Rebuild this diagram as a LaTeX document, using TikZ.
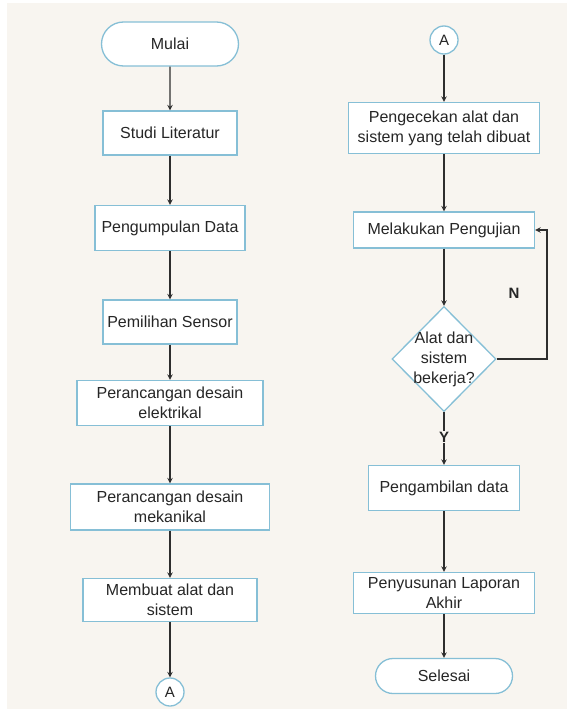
\documentclass[tikz,border=0pt]{standalone}
\usepackage{fontspec}
\setmainfont{Liberation Sans}
\usetikzlibrary{shapes,calc}

\definecolor{paper}{HTML}{F8F5F0}
\definecolor{boxblue}{HTML}{86BFD6}
\definecolor{linegray}{HTML}{2E2E2E}

\begin{document}
\begin{tikzpicture}[x=1pt,y=-1pt]
    \newcommand{\boxheight}[0]{44pt}

    \tikzstyle{dedge} = [line width=1.4pt,->,>=stealth,draw=linegray]

    \tikzstyle{process}=[
      rectangle,
      draw=boxblue,
      fill=white,
      line width=1.3pt,
      minimum height=\boxheight,
      align=center,
      inner sep=0pt,
      font=\fontsize{16}{20}\selectfont,
      text=black!85,
    ]
    \tikzstyle{terminal}=[
      process,
      rounded rectangle,
    ]
    \tikzstyle{decision}=[
      diamond,
      draw=boxblue,
      fill=white,
      line width=1.3pt,
      inner sep=0pt,
    ]
    \tikzstyle{connector}=[
      circle,
      draw=boxblue,
      fill=white,
      line width=1.3pt,
      minimum size=28pt,
      inner sep=0pt,
      font=\fontsize{15}{18}\selectfont,
      text=black!85,
    ]
    \tikzstyle{answer}=[
      font=\fontsize{15}{18}\selectfont\bfseries,
      text=black!85,
      inner sep=1pt,
    ]

    \useasboundingbox (0,0) rectangle (567,709);
    \fill[white] (0,0) rectangle (567,709);
    \fill[paper] (7,3) rectangle (567,709);

    % left column
    \node[terminal,minimum width=137pt] (mulai) at (170, 44) {Mulai};
    \node[process,minimum width=134pt] (studi) at (170,133) {Studi Literatur};
    \node[process,minimum width=150pt,minimum height=45pt] (data) at (170,228) {Pengumpulan Data};
    \node[process,minimum width=134pt] (sensor) at (170,322) {Pemilihan Sensor};
    \node[process,minimum width=186pt,minimum height=45pt] (elektrik) at (170,403) {Perancangan desain\\elektrikal};
    \node[process,minimum width=199pt,minimum height=46pt] (mekanik) at (170,507) {Perancangan desain\\mekanikal};
    \node[process,minimum width=174pt,minimum height=43pt] (buat) at (170,600) {Membuat alat dan\\sistem};
    \node[connector] (keluar) at (170,692) {A};

    % right column
    \node[connector] (masuk) at (444, 40) {A};
    \node[process,minimum width=191pt,minimum height=51pt] (cek) at (444,128) {Pengecekan alat dan\\sistem yang telah dibuat};
    \node[process,minimum width=181pt,minimum height=36pt] (uji) at (444,230) {Melakukan Pengujian};
    \node[decision,minimum width=104pt,minimum height=105pt] (kerja) at (444,359) {};
    \node[align=center,font=\fontsize{16}{20}\selectfont,text=black!85] (kerjatext) at (kerja) {Alat dan\\sistem\\bekerja?};
    \node[process,minimum width=151pt,minimum height=45pt] (ambil) at (444,488) {Pengambilan data};
    \node[process,minimum width=181pt,minimum height=41pt] (susun) at (444,593) {Penyusunan Laporan\\Akhir};
    \node[terminal,minimum width=137pt,minimum height=35pt] (selesai) at (444,676) {Selesai};

    \coordinate (ulang) at (547,359);
    \node[answer] (tidak) at (514,293) {N};

    \draw[dedge] (mulai) -- (studi);
    \draw[dedge] (studi) -- (data);
    \draw[dedge] (data) -- (sensor);
    \draw[dedge] (sensor) -- (elektrik);
    \draw[dedge] (elektrik) -- (mekanik);
    \draw[dedge] (mekanik) -- (buat);
    \draw[dedge] (buat) -- (keluar);

    \draw[dedge] (masuk) -- (cek);
    \draw[dedge] (cek) -- (uji);
    \draw[dedge] (uji) -- (kerja);
    \draw[dedge] (kerja) -- (ambil)
              node[answer,pos=0.47,fill=paper] (ya) {Y}
    ;
    \draw[dedge] (ambil) -- (susun);
    \draw[dedge] (susun) -- (selesai);
    \draw[dedge] (kerja.east) -- (ulang) |- (uji.east);
  \end{tikzpicture}
\end{document}
